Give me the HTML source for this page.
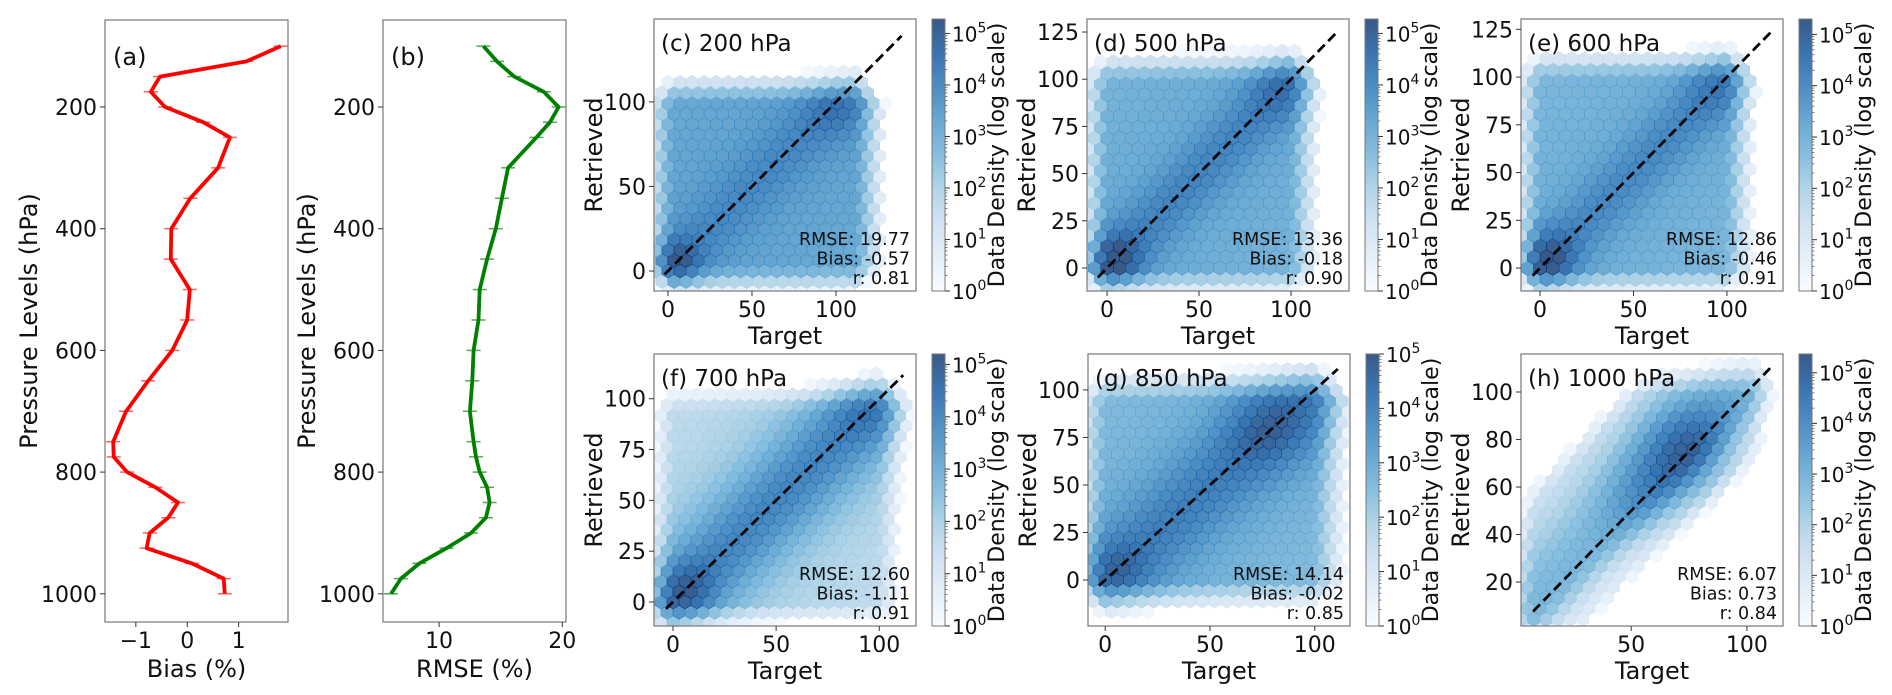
<!DOCTYPE html>
<html><head><meta charset="utf-8">
<style>
html,body{margin:0;padding:0;background:#fff;}
svg{display:block;font-family:"DejaVu Sans","Liberation Sans",sans-serif;}
</style></head>
<body>
<svg id="fig" xmlns="http://www.w3.org/2000/svg" width="1892" height="695" viewBox="0 0 1892 695">
<defs>
<linearGradient id="bluesGrad" x1="0" y1="1" x2="0" y2="0">
<stop offset="0" stop-color="#f7fbff"/><stop offset="0.125" stop-color="#deebf7"/><stop offset="0.25" stop-color="#c6dbef"/><stop offset="0.375" stop-color="#9ecae1"/><stop offset="0.5" stop-color="#6baed6"/><stop offset="0.625" stop-color="#4292c6"/><stop offset="0.75" stop-color="#2171b5"/><stop offset="0.875" stop-color="#08519c"/><stop offset="1" stop-color="#08306b"/>
</linearGradient>
</defs>
</svg>
<script>
// ---------- profile data ----------
const levels = [100,125,150,175,200,225,250,300,350,400,450,500,550,600,650,700,750,775,800,825,850,875,900,925,950,975,1000];
const biasValues = [1.82,1.15,-0.53,-0.71,-0.43,0.31,0.83,0.60,0.06,-0.31,-0.32,0.05,0.00,-0.29,-0.76,-1.19,-1.44,-1.43,-1.17,-0.62,-0.18,-0.37,-0.73,-0.79,0.09,0.71,0.73];
const rmseValues = [13.6,14.7,16.1,18.5,19.7,19.0,17.9,15.6,15.1,14.6,13.9,13.3,13.2,12.8,12.7,12.5,12.8,13.0,13.3,13.9,14.1,13.8,12.6,10.6,8.4,6.9,6.1];
const pressureTicks = [200,400,600,800,1000];
const biasTicks = [-1,0,1];
const rmseTicks = [10,20];

// ---------- hexbin panel data ----------
const panelTitles = ["(c) 200 hPa","(d) 500 hPa","(e) 600 hPa","(f) 700 hPa","(g) 850 hPa","(h) 1000 hPa"];
const rmseStats = ["19.77","13.36","12.86","12.60","14.14","6.07"];
const biasStats = ["-0.57","-0.18","-0.46","-1.11","-0.02","0.73"];
const rStats = ["0.81","0.90","0.91","0.91","0.85","0.84"];
const xTickSets = [[0,50,100],[0,50,100],[0,50,100],[0,50,100],[0,50,100],[50,100]];
const yTickSets = [[0,50,100],[0,25,50,75,100,125],[0,25,50,75,100,125],[0,25,50,75,100],[0,25,50,75,100],[20,40,60,80,100]];
const xDomains = [[-8.3,147.6],[-10.9,131.5],[-10.2,130],[-9.2,117.8],[-8.2,116.8],[2.4,115.6]];
const yDomains = [[-11.8,149],[-12.2,131.9],[-12,130.4],[-11.8,122],[-24.2,118.9],[1.5,116]];
const oneToOne = [[-2,139],[-5,125],[-4,124],[-3.4,111.6],[-3,111],[7.6,110]];
const cbMaxLog = [5.28,5.28,5.3,5.2,5.0,5.37];
// density model per panel (log10 counts)
const plateauLog = [3.5,3.3,3.2,2.3,3.0,0.7];
const diagBoost = [0.6,0.9,0.9,1.8,1.1,2.2];
const diagWidthUp = [18,16,16,22,22,30];
const diagWidthDown = [18,16,16,22,22,11];
const peakA = [[5,5,1.4,10],[5,5,1.4,10],[5,5,1.4,10],[6,6,1.1,10],[6,6,0.7,10],[75,75,2.2,16]];
const peakB = [[100,95,0.6,12],[95,95,0.6,12],[95,95,0.5,12],[95,95,0.5,12],[78,80,0.8,15],[55,55,0.8,14]];
const innerLo = [[3,3],[0,0],[0,0],[0,0],[0,0],[8,5]];
const innerHi = [[112,100],[100,100],[100,100],[100,95],[100,95],[102,100]];
const fadeRate = [0.14,0.15,0.15,0.14,0.13,0.14];
const hexStep = [7.2,6.8,6.8,5.8,5.8,5.3];

const svg = document.getElementById('fig');
const NS = 'http://www.w3.org/2000/svg';
function el(tag, attrs, parent){
  const e = document.createElementNS(NS, tag);
  for (const k in attrs) e.setAttribute(k, attrs[k]);
  (parent||svg).appendChild(e);
  return e;
}
function txt(str, attrs, parent){ const t = el('text', attrs, parent); t.textContent = str; return t; }

// ---------- profile panels ----------
const profBoxes = [{l:105,r:288,t:20,b:622,dom:[-1.60,1.96],vals:biasValues,ticks:biasTicks,color:'#ff0000',cap:'#ff6060',lab:'(a)',xl:'Bias (%)',name:'bias'},
                   {l:383,r:566,t:20,b:622,dom:[5.45,20.3],vals:rmseValues,ticks:rmseTicks,color:'#008000',cap:'#55a855',lab:'(b)',xl:'RMSE (%)',name:'rmse'}];
function pY(p){ return 107 + (p-200)*0.6085; }
profBoxes.forEach(function(B){
  const g = el('g', {});
  
  
  const sx = v => B.l + (v-B.dom[0])/(B.dom[1]-B.dom[0])*(B.r-B.l);
  let pts = B.vals.map((v,i)=> sx(v).toFixed(1)+','+pY(levels[i]).toFixed(1)).join(' ');
  B.vals.forEach(function(v,i){
    const c = el('line',{x1:sx(v)-7,x2:sx(v)+7,y1:pY(levels[i]),y2:pY(levels[i]),stroke:B.cap,'stroke-width':1.5},g);
    
    
  });
  const line = el('polyline',{points:pts,fill:'none',stroke:B.color,'stroke-width':3.8,'stroke-linejoin':'round'},g);
  
  
  const box = el('rect',{x:B.l,y:B.t,width:B.r-B.l,height:B.b-B.t,fill:'none',stroke:'#777','stroke-width':1.2},g);
  
  
  pressureTicks.forEach(function(p){
    el('line',{x1:B.l-5,x2:B.l,y1:pY(p),y2:pY(p),stroke:'#333','stroke-width':1},g);
    const t = txt(String(p),{x:B.l-8,y:pY(p)+8,'font-size':22,'text-anchor':'end',fill:'#111'},g);
    
    
  });
  B.ticks.forEach(function(v){
    el('line',{x1:sx(v),x2:sx(v),y1:B.b,y2:B.b+5,stroke:'#333','stroke-width':1},g);
    const t = txt(v<0?'\u2212'+Math.abs(v):String(v),{x:sx(v),y:B.b+26,'font-size':22,'text-anchor':'middle',fill:'#111'},g);
    
    
  });
  const xl = txt(B.xl,{x:(B.l+B.r)/2,y:B.b+55,'font-size':24,'text-anchor':'middle',fill:'#111'},g);
  
  
  const yl = txt('Pressure Levels (hPa)',{x:0,y:0,'font-size':24,'text-anchor':'middle',fill:'#111',transform:'translate('+(B.l-68)+','+((B.t+B.b)/2)+') rotate(-90)'},g);
  
  
  const pl = txt(B.lab,{x:B.l+8,y:B.t+45,'font-size':24,fill:'#111'},g);
  
  
});

// ---------- blues colormap ----------
const bluesStops = [[247,251,255],[222,235,247],[198,219,239],[158,202,225],[107,174,214],[66,146,198],[33,113,181],[8,81,156],[8,48,107]];
function blues(t){
  t = Math.max(0,Math.min(1,t));
  const f = t*8, i = Math.min(7,Math.floor(f)), u = f-i;
  const a = bluesStops[i], b = bluesStops[i+1];
  return 'rgb('+[0,1,2].map(k=>Math.round(a[k]+(b[k]-a[k])*u)).join(',')+')';
}

// ---------- hexbin panels ----------
const panelLefts = [654,1087,1521,654,1088,1521];
const panelTops = [19,19,19,354,354,354];
const PW = 262, PH = 272;
panelTitles.forEach(function(title,pi){
  const L = panelLefts[pi], T = panelTops[pi], R = L+PW, Bm = T+PH;
  const xd = xDomains[pi], yd = yDomains[pi];
  const sx = v => L + (v-xd[0])/(xd[1]-xd[0])*PW;
  const sy = v => Bm - (v-yd[0])/(yd[1]-yd[0])*PH;
  const ix = px => xd[0] + (px-L)/PW*(xd[1]-xd[0]);
  const iy = py => yd[0] + (Bm-py)/PH*(yd[1]-yd[0]);
  const g = el('g',{});
  
  
  const clipId = 'clip'+pi;
  const cp = el('clipPath',{id:clipId},g);
  el('rect',{x:L,y:T,width:PW,height:PH},cp);
  const hg = el('g',{'clip-path':'url(#'+clipId+')'},g);
  const w = hexStep[pi]/(xd[1]-xd[0])*PW;
  const rowH = w*0.866, rad = w/Math.sqrt(3);
  const x0 = sx(0), y0 = sy(0);
  const lo = innerLo[pi], hi = innerHi[pi];
  for (let r=-40; r<40; r++){
    const cy = y0 - r*rowH;
    if (cy < T-rad || cy > Bm+rad) continue;
    const off = (r%2!==0)? w/2 : 0;
    for (let c=-40; c<40; c++){
      const cx = x0 + c*w + off;
      if (cx < L-w || cx > R+w) continue;
      const x = ix(cx), y = iy(cy);
      const d = y-x;
      const sd = d>0? diagWidthUp[pi] : diagWidthDown[pi];
      let v = plateauLog[pi] + diagBoost[pi]*Math.exp(-0.5*(d/sd)*(d/sd));
      const A = peakA[pi], Bp = peakB[pi];
      v += A[2]*Math.exp(-0.5*((x-A[0])**2+(y-A[1])**2)/(A[3]*A[3]));
      v += Bp[2]*Math.exp(-0.5*((x-Bp[0])**2+(y-Bp[1])**2)/(Bp[3]*Bp[3]));
      const ox = Math.max(0, lo[0]-x, x-hi[0]), oy = Math.max(0, lo[1]-y, y-hi[1]);
      v -= fadeRate[pi]*(ox+oy)*(1+0.02*(ox+oy));
      if (pi===5){ if (d < -25) v -= 0.15*(-25-d); if (d>45) v -= 0.12*(d-45); }
      else { v -= 0.004*Math.abs(d)*diagBoost[pi]; }
      if (v < 0.15) continue;
      const col = blues(v/cbMaxLog[pi]);
      let pts = [];
      for (let k=0;k<6;k++){ const ang = Math.PI/180*(60*k-90); pts.push((cx+rad*Math.cos(ang)).toFixed(1)+','+(cy+rad*Math.sin(ang)).toFixed(1)); }
      const h = el('polygon',{points:pts.join(' '),fill:col,'fill-opacity':0.8,stroke:col,'stroke-opacity':0.9,'stroke-width':0.6},hg);
      
      
    }
  }
  const o = oneToOne[pi];
  const dl = el('line',{x1:sx(o[0]),y1:sy(o[0]),x2:sx(o[1]),y2:sy(o[1]),stroke:'#000','stroke-width':2.8,'stroke-dasharray':'10,5'},hg);
  
  
  const fr = el('rect',{x:L,y:T,width:PW,height:PH,fill:'none',stroke:'#777','stroke-width':1.2},g);
  
  
  xTickSets[pi].forEach(function(v){
    el('line',{x1:sx(v),x2:sx(v),y1:Bm,y2:Bm+5,stroke:'#333','stroke-width':1},g);
    const t = txt(String(v),{x:sx(v),y:Bm+26,'font-size':22,'text-anchor':'middle',fill:'#111'},g);
    
    
  });
  yTickSets[pi].forEach(function(v){
    el('line',{x1:L-5,x2:L,y1:sy(v),y2:sy(v),stroke:'#333','stroke-width':1},g);
    const t = txt(String(v),{x:L-8,y:sy(v)+8,'font-size':22,'text-anchor':'end',fill:'#111'},g);
    
    
  });
  const xt = txt('Target',{x:L+PW/2,y:Bm+53,'font-size':24,'text-anchor':'middle',fill:'#111'},g);
  
  
  const yt = txt('Retrieved',{x:0,y:0,'font-size':24,'text-anchor':'middle',fill:'#111',transform:'translate('+(L-52)+','+(T+PH/2)+') rotate(-90)'},g);
  
  
  const tt = txt(title,{x:L+7,y:T+32,'font-size':23,fill:'#111'},g);
  
  
  const stats = ['RMSE: '+rmseStats[pi],'Bias: '+biasStats[pi],'r: '+rStats[pi]];
  stats.forEach(function(s,k){
    const st = txt(s,{x:R-6,y:Bm-46+k*19.5,'font-size':17.5,'text-anchor':'end',fill:'#111'},g);
    
    
  });
  // colorbar
  const cbL = L+278, cbW = 13;
  const cb = el('rect',{x:cbL,y:T,width:cbW,height:PH,fill:'url(#bluesGrad)','fill-opacity':0.8,stroke:'#777','stroke-width':1},g);
  
  
  const cy = e => Bm - e/cbMaxLog[pi]*PH;
  for (let e=0;e<=5;e++){
    el('line',{x1:cbL+cbW,x2:cbL+cbW+5,y1:cy(e),y2:cy(e),stroke:'#333','stroke-width':1},g);
    for (let m=2;m<10 && e<5;m++){ const yy = cy(e+Math.log10(m)); el('line',{x1:cbL+cbW,x2:cbL+cbW+2.5,y1:yy,y2:yy,stroke:'#555','stroke-width':0.7},g); }
    const t = el('text',{x:cbL+cbW+7,y:cy(e)+8,'font-size':20,fill:'#111'},g);
    
    
    t.appendChild(document.createTextNode('10'));
    const sup = el('tspan',{dy:-9,'font-size':14},t); sup.textContent = String(e);
  }
  const cl = txt('Data Density (log scale)',{x:0,y:0,'font-size':22,'text-anchor':'middle',fill:'#111',transform:'translate('+(cbL+72)+','+(T+PH/2)+') rotate(-90)'},g);
  
  
});
</script>
</body></html>
